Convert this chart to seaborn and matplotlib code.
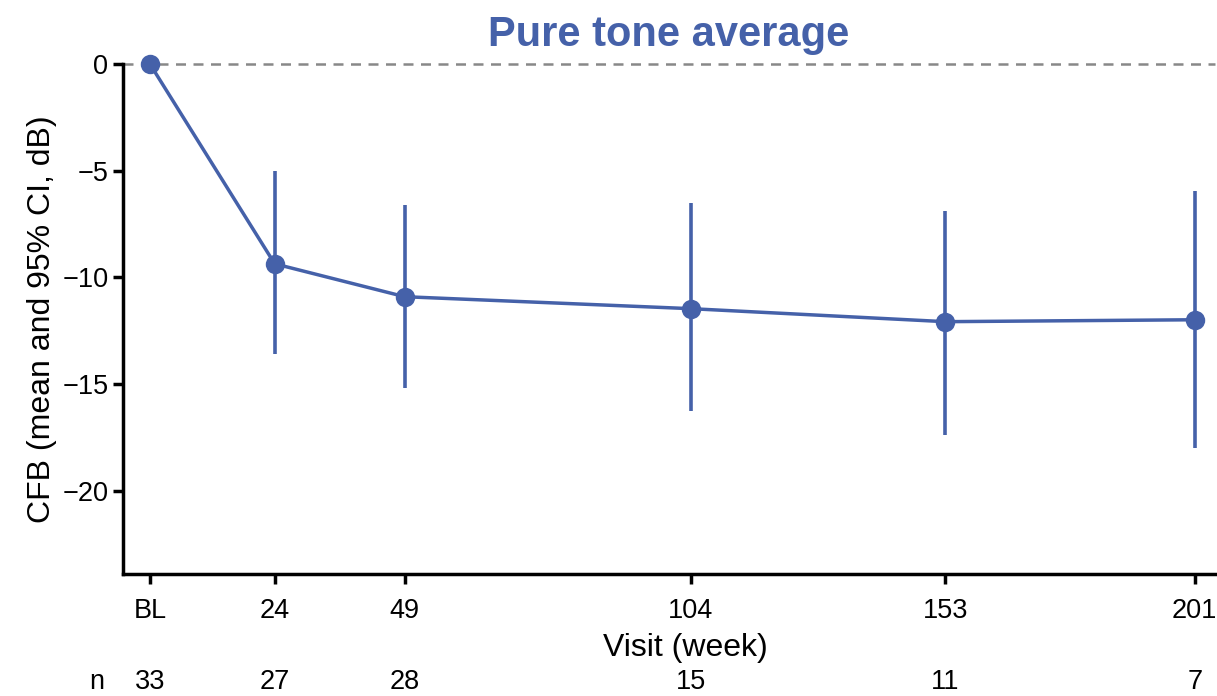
import matplotlib
matplotlib.use("Agg")
import matplotlib.pyplot as plt
import matplotlib.transforms as mtransforms
import seaborn as sns
import pandas as pd

# data
weeks = [0, 24, 49, 104, 153, 201]
tick_labels = ["BL", "24", "49", "104", "153", "201"]
cfb_mean = [0.0, -9.36, -10.9, -11.46, -12.07, -11.98]
ci_low = [0.0, -13.6, -15.2, -16.24, -17.36, -18.0]
ci_high = [0.0, -5.0, -6.6, -6.5, -6.88, -5.94]
n_counts = [33, 27, 28, 15, 11, 7]

blue = "#4561A9"

sns.set_style("ticks")
plt.rcParams["font.family"] = ["Liberation Sans", "DejaVu Sans"]
plt.rcParams["text.color"] = "black"
plt.rcParams["axes.labelcolor"] = "black"
plt.rcParams["xtick.color"] = "black"
plt.rcParams["ytick.color"] = "black"

df = pd.DataFrame({"week": weeks, "cfb": cfb_mean})

fig = plt.figure(figsize=(12.17, 6.96), dpi=100)
ax = fig.add_axes([0.101, 0.175, 0.897, 0.733])

ax.axhline(0, color="#888888", linestyle=(0, (4, 3)), linewidth=1.8, zorder=1)

# confidence intervals (skip baseline, no interval there)
ax.vlines(weeks[1:], ci_low[1:], ci_high[1:], color=blue, linewidth=2.6, zorder=2)

sns.lineplot(data=df, x="week", y="cfb", ax=ax, color=blue, linewidth=2.5,
             marker="o", markersize=14, markeredgewidth=0, zorder=3)
for ln in ax.lines:
    ln.set_clip_on(False)

ax.set_xlim(-5.2, 204.8)
ax.set_ylim(-23.9, 0)
ax.set_xticks(weeks)
ax.set_xticklabels(tick_labels)
ax.set_yticks([0, -5, -10, -15, -20])
ax.set_yticklabels(["0", "\u22125", "\u221210", "\u221215", "\u221220"])
ax.tick_params(labelsize=19.5, width=2.5, length=7, color="black", labelcolor="black")
ax.tick_params(axis="x", pad=10)

for side in ["top", "right"]:
    ax.spines[side].set_visible(False)
for side in ["left", "bottom"]:
    ax.spines[side].set_linewidth(2.5)
    ax.spines[side].set_color("black")

ax.set_xlabel("Visit (week)", fontsize=23, labelpad=3)
ax.xaxis.set_label_coords(0.515, -0.115)
ax.set_ylabel("CFB (mean and 95% CI, dB)", fontsize=23, labelpad=4)
ax.set_title("Pure tone average", fontsize=30, fontweight="bold", color=blue, pad=13)

# n at risk row under the axis
trans = mtransforms.blended_transform_factory(ax.transData, fig.transFigure)
for w, n in zip(weeks, n_counts):
    ax.text(w, 0.02, str(n), transform=trans, ha="center", va="center", fontsize=19.5)
fig.text(97 / 1217, 0.02, "n", ha="center", va="center", fontsize=19.5)

fig.savefig("out.png", dpi=100)
plt.close(fig)
